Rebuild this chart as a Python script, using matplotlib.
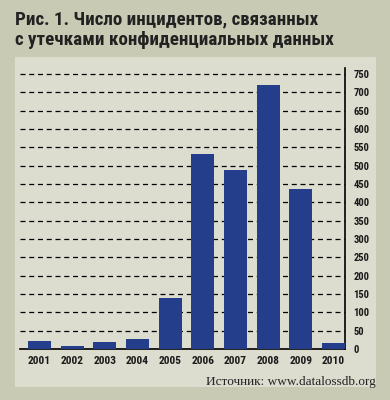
import matplotlib.pyplot as plt

years = ['2001', '2002', '2003', '2004', '2005', '2006', '2007', '2008', '2009', '2010']
incidents = [22, 8, 19, 27, 139, 532, 488, 720, 436, 16]
yticks = list(range(0, 751, 50))

title = 'Рис. 1. Число инцидентов, связанных\nс утечками конфиденциальных данных'
source = 'Источник: www.datalossdb.org'

narrow = ['Roboto Condensed', 'DejaVu Sans']

fig = plt.figure(figsize=(3.9, 4.0), dpi=100, facecolor='#c9cab3')
W, H = 390, 400

# inner light panel
bg = fig.add_axes([15 / W, 1 - 387 / H, 361 / W, 330 / H], zorder=0)
bg.set_facecolor('#dcdccf')
bg.set_xticks([])
bg.set_yticks([])
for s in bg.spines.values():
    s.set_visible(False)

ax = fig.add_axes([20 / W, 1 - 349 / H, 325 / W, 281 / H], zorder=1)
ax.set_facecolor('none')
x = range(len(years))
ax.bar(x, incidents, width=0.7, color='#243e8c', zorder=3)

ax.set_xlim(-0.6, 9.35)
ax.set_ylim(0, 766)
ax.set_yticks(yticks)
ax.yaxis.tick_right()
ax.set_xticks(list(x))
ax.set_xticklabels(years)
for lab in ax.get_xticklabels():
    lab.set_family(narrow)
    lab.set_fontweight('bold')
    lab.set_fontsize(8.2)
    lab.set_color('#1a1a1a')
for lab in ax.get_yticklabels():
    lab.set_family(narrow)
    lab.set_fontweight('bold')
    lab.set_fontsize(7.6)
    lab.set_color('#1a1a1a')
ax.tick_params(axis='x', length=0, pad=5)
ax.tick_params(axis='y', length=0, pad=6)
ax.grid(axis='y', linestyle=(0, (4, 3)), color='black', linewidth=0.9, zorder=1)
ax.grid(axis='x', visible=False)
for s in ['top', 'left']:
    ax.spines[s].set_visible(False)
ax.spines['right'].set_linewidth(1.2)
ax.spines['bottom'].set_linewidth(1.2)

fig.text(15 / W, 1 - 45 / H, title, family=narrow, fontweight='bold',
         fontsize=13.7, color='#222222', va='baseline', linespacing=1.17)
fig.text(376 / W, 1 - 385 / H, source, family=['Liberation Serif', 'DejaVu Serif'],
         fontsize=9.5, color='#222222', ha='right', va='baseline')

plt.savefig('out.png', dpi=100, facecolor=fig.get_facecolor())
plt.close()
